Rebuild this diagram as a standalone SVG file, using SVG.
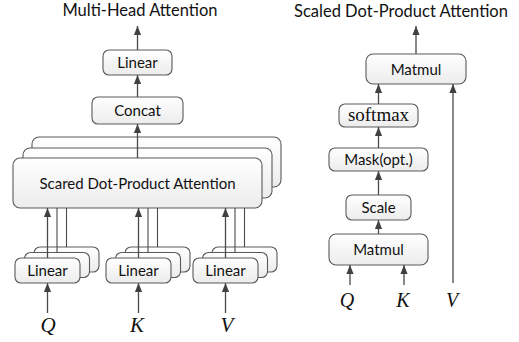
<svg xmlns="http://www.w3.org/2000/svg" width="519" height="342" viewBox="0 0 519 342">
<defs>
<linearGradient id="g" x1="0" y1="0" x2="0" y2="1">
<stop offset="0" stop-color="#ffffff"/>
<stop offset="1" stop-color="#ececec"/>
</linearGradient>
<marker id="ah" markerUnits="userSpaceOnUse" markerWidth="9" markerHeight="11" refX="10" refY="4" orient="auto" viewBox="0 0 10 8">
<path d="M0,0 L10,4 L0,8 z" fill="#404040"/>
</marker>
</defs>
<style>
.box{fill:url(#g);stroke:#5a5a5a;stroke-width:1.1}
.lbl{font-family:Lato,"Liberation Sans",sans-serif;font-size:15px;fill:#111;text-anchor:middle}
.ttl{font-family:Lato,"Liberation Sans",sans-serif;font-size:16.5px;fill:#111;text-anchor:middle}
.var{font-family:"Liberation Serif",serif;font-style:italic;font-size:21px;fill:#111;text-anchor:middle}
.ser{font-family:"Liberation Serif",serif;font-size:19px;fill:#111;text-anchor:middle}
.ar{stroke:#4a4a4a;stroke-width:1.3;fill:none;marker-end:url(#ah)}
.ln{stroke:#4a4a4a;stroke-width:1.1;fill:none}
</style>
<text class="ttl" x="140" y="16">Multi-Head Attention</text>
<text class="ttl" x="401" y="17">Scaled Dot-Product Attention</text>

<g id="mh-linear"><rect class="box" x="103" y="50" width="69" height="25" rx="6"/><text class="lbl" x="137.5" y="68">Linear</text></g>
<g id="concat"><rect class="box" x="92" y="97" width="91" height="27" rx="6"/><text class="lbl" x="137.5" y="116">Concat</text></g>
<g id="sdpa-stack">
<rect class="box" x="32" y="137" width="249" height="50" rx="7"/>
<rect class="box" x="23" y="148" width="249" height="50" rx="7"/>
<rect class="box" x="13" y="158" width="249" height="50" rx="7"/>
<text class="lbl" x="137.5" y="188.5">Scared Dot-Product Attention</text>
</g>
<g id="lin-q">
<rect class="box" x="34" y="247" width="65" height="25" rx="6"/>
<rect class="box" x="24.5" y="252.5" width="65" height="25" rx="6"/>
<rect class="box" x="15" y="258" width="65" height="25" rx="6"/>
<text class="lbl" x="47.5" y="275.5">Linear</text>
</g>
<g id="lin-k">
<rect class="box" x="125" y="247" width="65" height="25" rx="6"/>
<rect class="box" x="115.5" y="252.5" width="65" height="25" rx="6"/>
<rect class="box" x="106" y="258" width="65" height="25" rx="6"/>
<text class="lbl" x="138.5" y="275.5">Linear</text>
</g>
<g id="lin-v">
<rect class="box" x="212" y="247" width="65" height="25" rx="6"/>
<rect class="box" x="202.5" y="252.5" width="65" height="25" rx="6"/>
<rect class="box" x="193" y="258" width="65" height="25" rx="6"/>
<text class="lbl" x="225.5" y="275.5">Linear</text>
</g>

<g id="sd-matmul-top"><rect class="box" x="366" y="54" width="100" height="30" rx="7"/><text class="lbl" x="416" y="74.5">Matmul</text></g>
<g id="softmax"><rect class="box" x="339" y="104" width="79" height="23" rx="6"/><text class="ser" x="378.5" y="121">softmax</text></g>
<g id="mask"><rect class="box" x="329" y="148" width="99" height="23" rx="6"/><text class="lbl" x="378.5" y="165">Mask(opt.)</text></g>
<g id="scale"><rect class="box" x="346" y="195" width="65" height="25" rx="6"/><text class="lbl" x="378.5" y="213">Scale</text></g>
<g id="sd-matmul-bot"><rect class="box" x="329" y="234" width="99" height="31" rx="7"/><text class="lbl" x="378.5" y="255">Matmul</text></g>

<g id="connectors">
<line class="ar" x1="137.5" y1="50" x2="137.5" y2="26"/>
<line class="ar" x1="137.5" y1="97" x2="137.5" y2="75"/>
<line class="ar" x1="137.5" y1="158" x2="137.5" y2="124"/>
<line class="ar" x1="47.5" y1="258" x2="47.5" y2="208"/>
<line class="ln" x1="57" y1="252.5" x2="57" y2="208"/>
<line class="ln" x1="66.5" y1="247" x2="66.5" y2="208"/>
<line class="ar" x1="138.5" y1="258" x2="138.5" y2="208"/>
<line class="ln" x1="148" y1="252.5" x2="148" y2="208"/>
<line class="ln" x1="157.5" y1="247" x2="157.5" y2="208"/>
<line class="ar" x1="225.5" y1="258" x2="225.5" y2="208"/>
<line class="ln" x1="235" y1="252.5" x2="235" y2="208"/>
<line class="ln" x1="244.5" y1="247" x2="244.5" y2="208"/>
<line class="ar" x1="47.5" y1="313" x2="47.5" y2="283"/>
<line class="ar" x1="138.5" y1="313" x2="138.5" y2="283"/>
<line class="ar" x1="225.5" y1="313" x2="225.5" y2="283"/>
<line class="ar" x1="416" y1="54" x2="416" y2="26"/>
<line class="ar" x1="378.5" y1="104" x2="378.5" y2="84"/>
<line class="ar" x1="378.5" y1="148" x2="378.5" y2="127"/>
<line class="ar" x1="378.5" y1="195" x2="378.5" y2="171"/>
<line class="ar" x1="378.5" y1="234" x2="378.5" y2="220"/>
<line class="ar" x1="350" y1="285" x2="350" y2="265"/>
<line class="ar" x1="404" y1="285" x2="404" y2="265"/>
<line class="ar" x1="453" y1="283" x2="453" y2="84"/>
</g>

<text class="var" x="48" y="332">Q</text>
<text class="var" x="137" y="332">K</text>
<text class="var" x="227" y="332">V</text>
<text class="var" x="347" y="307" style="font-size:20px">Q</text>
<text class="var" x="403" y="307" style="font-size:20px">K</text>
<text class="var" x="452" y="307" style="font-size:20px">V</text>
</svg>
